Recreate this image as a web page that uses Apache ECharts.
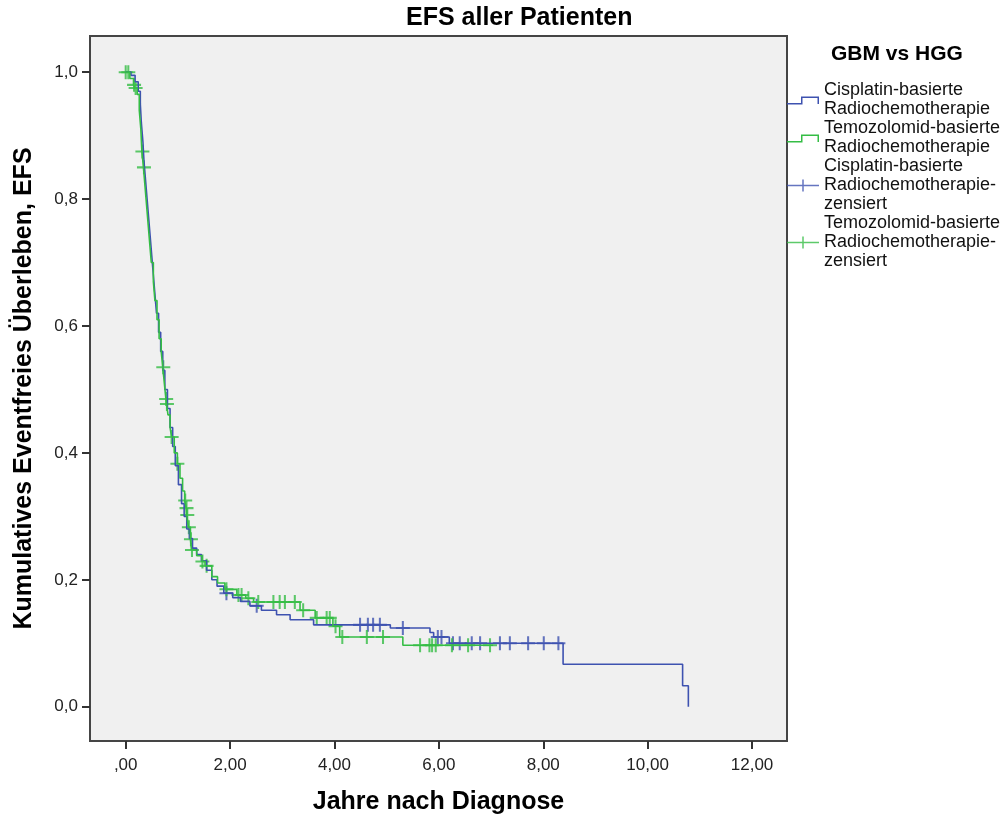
<!DOCTYPE html>
<html>
<head>
<meta charset="utf-8">
<title>EFS aller Patienten</title>
<script src="https://cdn.jsdelivr.net/npm/echarts@6/dist/echarts.min.js"></script>
<style>
  body { margin: 0; background: #fff; }
  #chart { width: 1005px; height: 816px; }
</style>
</head>
<body>
<div id="chart"></div>
<script>
// Kaplan-Meier Stufen (Zeit in Jahren, kumulatives EFS nach dem Ereignis)
const cisTime = [0, 0.10, 0.18, 0.24, 0.28, 0.30, 0.33, 0.35, 0.38, 0.41, 0.44, 0.47, 0.50, 0.53, 0.56, 0.59, 0.63, 0.67, 0.71, 0.75,
  0.80, 0.85, 0.90, 0.95, 1.01, 1.07, 1.12, 1.17, 1.22, 1.28, 1.36, 1.45, 1.55, 1.65, 1.75, 1.88, 2.05, 2.20, 2.38, 2.60,
  2.89, 3.15, 3.60, 5.07, 5.83, 5.90, 6.20, 8.38, 10.67, 10.78]
const cisSurv = [1.0, 0.995, 0.985, 0.97, 0.95, 0.92, 0.89, 0.86, 0.83, 0.80, 0.77, 0.74, 0.71, 0.68, 0.65, 0.62, 0.59, 0.56, 0.53, 0.50,
  0.47, 0.44, 0.41, 0.38, 0.35, 0.32, 0.30, 0.28, 0.265, 0.25, 0.24, 0.23, 0.215, 0.20, 0.19, 0.179, 0.172, 0.166, 0.159, 0.152,
  0.145, 0.137, 0.129, 0.124, 0.117, 0.110, 0.100, 0.067, 0.033, 0.0]

const temTime = [0, 0.08, 0.15, 0.18, 0.22, 0.26, 0.29, 0.31, 0.34, 0.37, 0.40, 0.43, 0.46, 0.49, 0.53, 0.56, 0.60, 0.64, 0.68, 0.71,
  0.74, 0.77, 0.785, 0.81, 0.85, 0.88, 0.93, 0.99, 1.04, 1.09, 1.13, 1.16, 1.17, 1.20, 1.24, 1.26, 1.36, 1.46, 1.52, 1.65,
  1.76, 1.90, 2.13, 2.30, 2.45, 3.34, 3.63, 3.97, 4.10, 5.31, 7.04]
const temSurv = [1.0, 0.99, 0.98, 0.975, 0.965, 0.94, 0.91, 0.875, 0.85, 0.82, 0.79, 0.76, 0.73, 0.70, 0.67, 0.64, 0.61, 0.58, 0.56, 0.535,
  0.51, 0.485, 0.477, 0.46, 0.44, 0.425, 0.40, 0.383, 0.36, 0.34, 0.325, 0.313, 0.302, 0.283, 0.264, 0.247, 0.238, 0.229, 0.222, 0.205,
  0.195, 0.185, 0.176, 0.171, 0.165, 0.152, 0.140, 0.127, 0.110, 0.097, 0.097]

// zensierte Fälle
const cisCensTime = [1.93, 2.51, 4.49, 4.64, 4.74, 4.87, 5.31, 5.98, 6.05, 6.27, 6.40, 6.63, 6.79, 7.17, 7.36, 7.71, 8.01, 8.29]
const cisCensSurv = [0.179, 0.159, 0.129, 0.129, 0.129, 0.129, 0.124, 0.110, 0.110, 0.100, 0.100, 0.100, 0.100, 0.100, 0.100, 0.100, 0.100, 0.100]

const temCensTime = [0.00, 0.05, 0.16, 0.19, 0.32, 0.35, 0.72, 0.775, 0.79, 0.88, 0.99, 1.14, 1.165, 1.18, 1.21, 1.25, 1.27, 1.47, 1.55, 1.93,
  2.16, 2.22, 2.35, 2.54, 2.83, 2.95, 3.05, 3.24, 3.40, 3.66, 3.85, 3.91, 4.02, 4.15, 4.62, 4.93, 5.64, 5.82, 5.87, 5.94,
  6.25, 6.56, 6.98]
const temCensSurv = [1.0, 1.0, 0.98, 0.975, 0.875, 0.85, 0.535, 0.485, 0.477, 0.425, 0.383, 0.325, 0.313, 0.302, 0.283, 0.264, 0.247, 0.229, 0.222, 0.185,
  0.176, 0.176, 0.171, 0.165, 0.165, 0.165, 0.165, 0.165, 0.152, 0.140, 0.140, 0.140, 0.127, 0.110, 0.110, 0.110, 0.097, 0.097, 0.097, 0.097,
  0.097, 0.097, 0.097]

const xTicks = [0, 2, 4, 6, 8, 10, 12]
const yTicks = [0, 0.2, 0.4, 0.6, 0.8, 1.0]

const names = [
  'Cisplatin-basierte\nRadiochemotherapie',
  'Temozolomid-basierte\nRadiochemotherapie',
  'Cisplatin-basierte\nRadiochemotherapie-\nzensiert',
  'Temozolomid-basierte\nRadiochemotherapie-\nzensiert'
]

const blue = '#3e52b0'
const green = '#35bd45'
const font = '"Liberation Sans", Arial, sans-serif'

const crossSymbol = 'path://M10.25,0H13.75V10.25H24V13.75H13.75V24H10.25V13.75H0V10.25H10.25Z'
const stepIcon = 'path://M0,0L0.01,0L0,0.01Z M0,12L0.01,12L0,11.99Z M0,9H14V2.5H32V10H30.5V4H15.5V10.5H0Z'
const censIcon = 'path://M0,5.25H15.25V0H16.75V5.25H32V6.75H16.75V12H15.25V6.75H0Z'

function zip (a, b) {
  return a.map((v, i) => [v, b[i]])
}

const chart = echarts.init(document.getElementById('chart'))

const option = {
  animation: false,
  backgroundColor: '#fff',
  textStyle: { fontFamily: font },
  title: [
    {
      text: 'EFS aller Patienten',
      left: 406,
      top: 6,
      padding: 0,
      textStyle: { fontFamily: font, fontSize: 25, fontWeight: 'bold', color: '#000' }
    },
    {
      text: 'GBM vs HGG',
      left: 831,
      top: 44,
      padding: 0,
      textStyle: { fontFamily: font, fontSize: 21, fontWeight: 'bold', color: '#000' }
    }
  ],
  legend: {
    orient: 'vertical',
    left: 787,
    top: 81,
    padding: 0,
    itemGap: 0,
    itemWidth: 32,
    itemHeight: 12,
    selectedMode: false,
    itemStyle: { borderWidth: 0 },
    textStyle: { fontFamily: font, fontSize: 18, lineHeight: 19, color: '#111' },
    data: [
      { name: names[0], icon: stepIcon },
      { name: names[1], icon: stepIcon },
      { name: names[2], icon: censIcon },
      { name: names[3], icon: censIcon }
    ]
  },
  grid: {
    left: 90,
    top: 36,
    width: 697,
    height: 705,
    outerBoundsMode: 'none',
    containLabel: false,
    show: true,
    backgroundColor: '#f0f0f0',
    borderColor: '#454545',
    borderWidth: 2
  },
  xAxis: {
    type: 'value',
    min: -0.684,
    max: 12.67,
    axisLine: { show: false, onZero: false },
    splitLine: { show: false },
    axisTick: {
      show: true,
      customValues: xTicks,
      length: 8,
      lineStyle: { color: '#333', width: 2 }
    },
    axisLabel: {
      customValues: xTicks,
      margin: 16,
      fontSize: 17,
      color: '#222',
      fontFamily: font,
      formatter: function (v) {
        return v.toFixed(2).replace('.', ',').replace(/^0,/, ',')
      }
    },
    name: 'Jahre nach Diagnose',
    nameLocation: 'middle',
    nameGap: 49,
    nameTextStyle: { fontFamily: font, fontSize: 25, fontWeight: 'bold', color: '#000' }
  },
  yAxis: {
    type: 'value',
    min: -0.054,
    max: 1.057,
    axisLine: { show: false, onZero: false },
    splitLine: { show: false },
    axisTick: {
      show: true,
      customValues: yTicks,
      length: 8,
      lineStyle: { color: '#333', width: 2 }
    },
    axisLabel: {
      customValues: yTicks,
      margin: 12,
      fontSize: 17,
      color: '#222',
      fontFamily: font,
      formatter: function (v) {
        return v.toFixed(1).replace('.', ',')
      }
    },
    name: 'Kumulatives Eventfreies Überleben, EFS',
    nameLocation: 'middle',
    nameGap: 53,
    nameRotate: 90,
    nameTextStyle: { fontFamily: font, fontSize: 25, fontWeight: 'bold', color: '#000' }
  },
  series: [
    {
      name: names[0],
      type: 'line',
      step: 'end',
      showSymbol: false,
      symbol: 'none',
      data: zip(cisTime, cisSurv),
      itemStyle: { color: blue },
      lineStyle: { color: blue, width: 1.6 }
    },
    {
      name: names[1],
      type: 'line',
      step: 'end',
      showSymbol: false,
      symbol: 'none',
      data: zip(temTime, temSurv),
      itemStyle: { color: green },
      lineStyle: { color: green, width: 1.6 }
    },
    {
      name: names[2],
      type: 'scatter',
      symbol: crossSymbol,
      symbolSize: 14,
      data: zip(cisCensTime, cisCensSurv),
      itemStyle: { color: blue }
    },
    {
      name: names[3],
      type: 'scatter',
      symbol: crossSymbol,
      symbolSize: 14,
      data: zip(temCensTime, temCensSurv),
      itemStyle: { color: green }
    }
  ]
}

chart.setOption(option)
</script>
</body>
</html>
